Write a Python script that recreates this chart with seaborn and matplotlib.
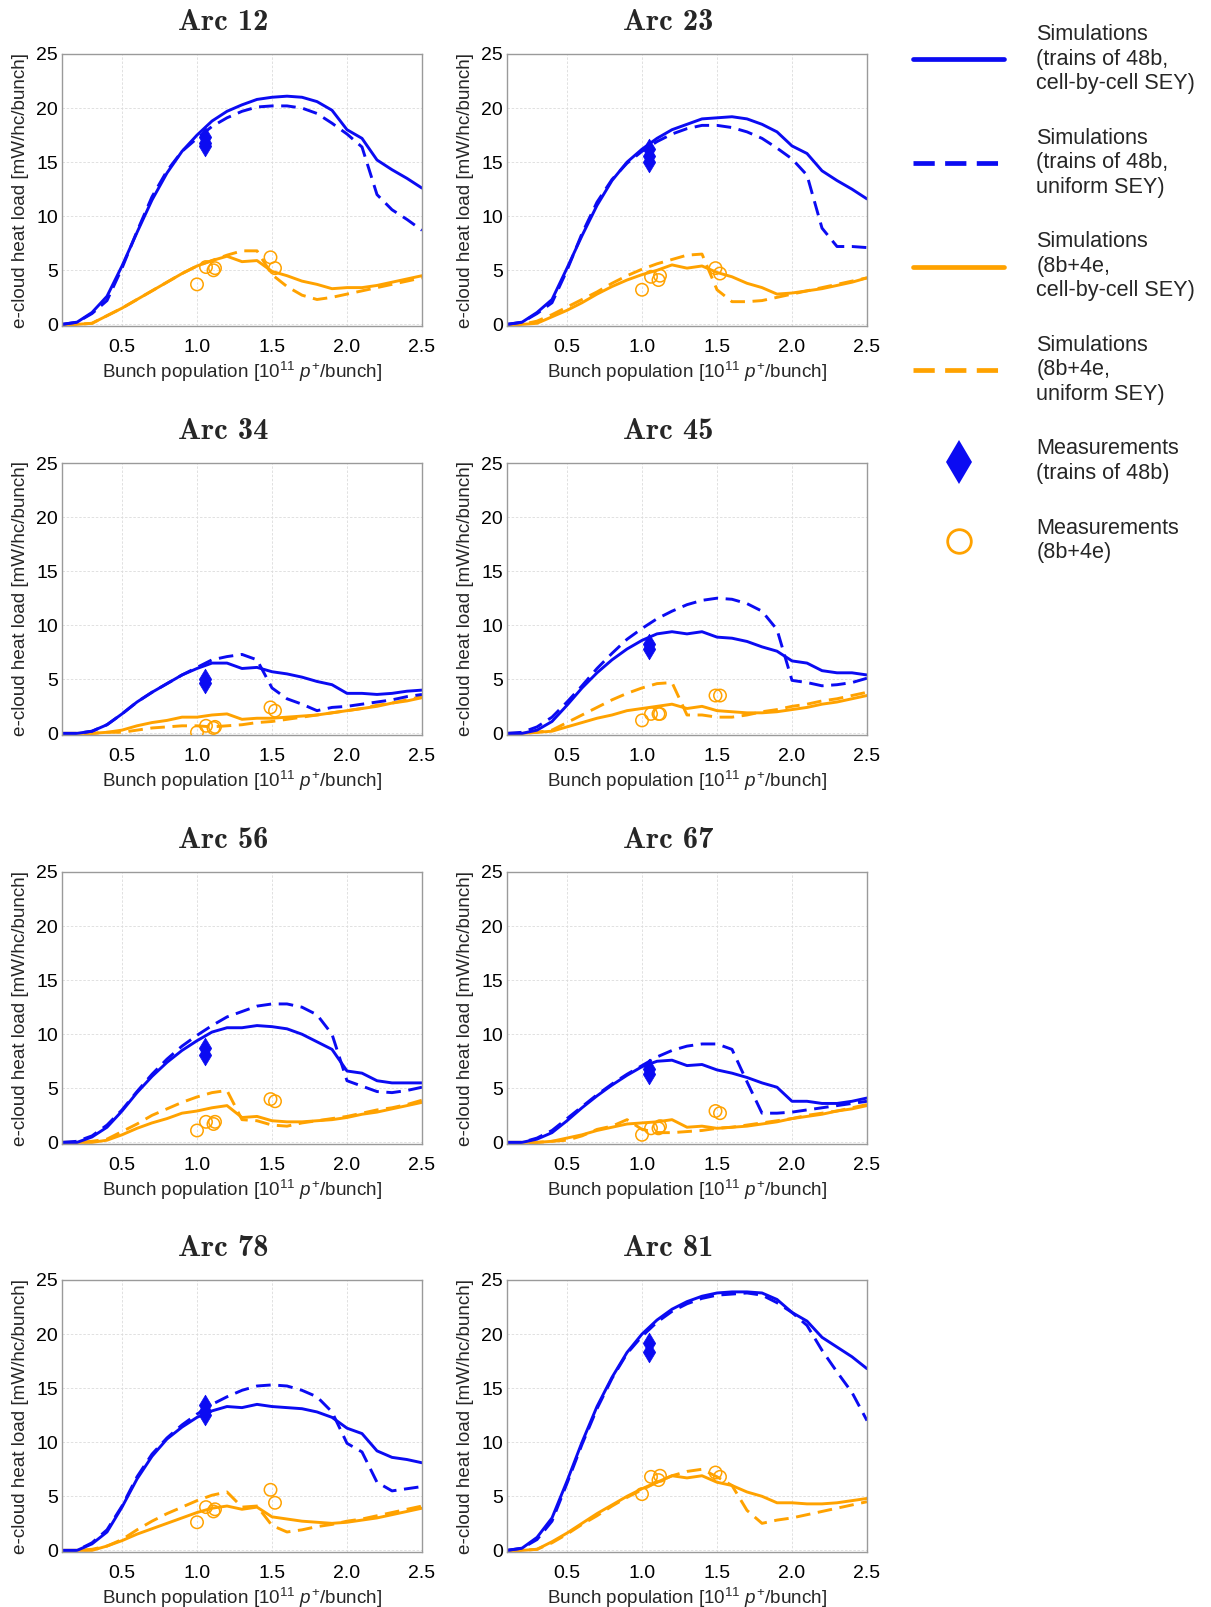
import matplotlib
matplotlib.use("Agg")
import matplotlib.pyplot as plt
from matplotlib.lines import Line2D
import seaborn as sns

# Bunch population grid of the simulations [1e11 p+/bunch]
bunch_pop = [0.1, 0.2, 0.3, 0.4, 0.5, 0.6, 0.7, 0.8, 0.9, 1.0, 1.1, 1.2, 1.3,
             1.4, 1.5, 1.6, 1.7, 1.8, 1.9, 2.0, 2.1, 2.2, 2.3, 2.4, 2.5]

# Bunch populations of the measurements
meas_pop_48b = 1.05
meas_pop_8b4e = [1.0, 1.06, 1.11, 1.12, 1.49, 1.52]

arc_names = ["Arc 12", "Arc 23", "Arc 34", "Arc 45",
             "Arc 56", "Arc 67", "Arc 78", "Arc 81"]

# Heat loads [mW/hc/bunch]
arc12_48b_cell = [0, 0.2, 1.1, 2.6, 5.4, 8.5, 11.5, 14.0, 16.0, 17.5, 18.8, 19.7, 20.3, 20.8, 21.0, 21.1, 21.0, 20.6, 19.8, 18.0, 17.2, 15.2, 14.3, 13.5, 12.6]
arc12_48b_unif = [0, 0.2, 1.0, 2.2, 5.2, 8.6, 11.8, 14.2, 16.0, 17.2, 18.3, 19.1, 19.7, 20.1, 20.2, 20.2, 20.0, 19.5, 18.6, 17.6, 16.4, 12.0, 10.6, 9.7, 8.7]
arc12_8b4e_cell = [0, 0, 0.1, 0.8, 1.5, 2.3, 3.1, 3.9, 4.7, 5.4, 5.9, 6.3, 5.8, 5.9, 4.9, 4.5, 4.0, 3.7, 3.3, 3.4, 3.4, 3.6, 3.9, 4.2, 4.5]
arc12_8b4e_unif = [0, 0, 0.1, 0.8, 1.5, 2.3, 3.1, 3.9, 4.7, 5.4, 5.9, 6.4, 6.8, 6.8, 4.6, 3.5, 2.7, 2.3, 2.5, 2.8, 3.1, 3.4, 3.7, 4.0, 4.3]
arc12_meas_48b = [17.3, 16.8, 16.5]
arc12_meas_8b4e = [3.7, 5.3, 5.0, 5.2, 6.2, 5.2]

arc23_48b_cell = [0, 0.2, 1.1, 2.3, 5.2, 8.2, 11.0, 13.3, 15.0, 16.2, 17.2, 18.0, 18.5, 19.0, 19.1, 19.2, 19.0, 18.5, 17.8, 16.5, 15.8, 14.2, 13.3, 12.5, 11.6]
arc23_48b_unif = [0, 0.2, 1.0, 2.0, 5.0, 8.4, 11.3, 13.4, 14.9, 16.0, 16.9, 17.6, 18.1, 18.4, 18.4, 18.2, 17.8, 17.2, 16.3, 15.3, 13.8, 8.9, 7.2, 7.2, 7.1]
arc23_8b4e_cell = [0, 0, 0.1, 0.7, 1.3, 2.0, 2.8, 3.5, 4.1, 4.6, 5.0, 5.5, 5.2, 5.4, 4.8, 4.4, 3.8, 3.4, 2.8, 2.9, 3.1, 3.3, 3.6, 3.9, 4.3]
arc23_8b4e_unif = [0, 0, 0.3, 0.9, 1.6, 2.3, 3.0, 3.8, 4.5, 5.1, 5.6, 6.0, 6.4, 6.5, 3.2, 2.1, 2.1, 2.2, 2.5, 2.8, 3.1, 3.4, 3.7, 4.0, 4.3]
arc23_meas_48b = [16.2, 15.6, 15.0]
arc23_meas_8b4e = [3.2, 4.4, 4.1, 4.5, 5.2, 4.7]

arc34_48b_cell = [0, 0, 0.2, 0.8, 1.8, 2.9, 3.8, 4.6, 5.4, 6.0, 6.5, 6.5, 6.0, 6.1, 5.7, 5.5, 5.2, 4.8, 4.5, 3.7, 3.7, 3.6, 3.7, 3.9, 4.0]
arc34_48b_unif = [0, 0, 0.2, 0.8, 1.8, 2.9, 3.8, 4.6, 5.4, 6.1, 6.8, 7.1, 7.3, 6.8, 4.2, 3.2, 2.7, 2.1, 2.4, 2.5, 2.7, 2.9, 3.1, 3.4, 3.6]
arc34_8b4e_cell = [0, 0, 0, 0.1, 0.3, 0.7, 1.0, 1.2, 1.5, 1.5, 1.7, 1.8, 1.3, 1.4, 1.4, 1.5, 1.6, 1.7, 1.9, 2.1, 2.3, 2.5, 2.8, 3.0, 3.3]
arc34_8b4e_unif = [0, 0, 0, 0.1, 0.1, 0.3, 0.5, 0.6, 0.7, 0.7, 0.6, 0.7, 0.8, 1.0, 1.1, 1.3, 1.5, 1.7, 1.9, 2.1, 2.3, 2.6, 2.8, 3.1, 3.4]
arc34_meas_48b = [5.0, 4.7]
arc34_meas_8b4e = [0.1, 0.7, 0.5, 0.6, 2.4, 2.1]

arc45_48b_cell = [0, 0, 0.3, 1.1, 2.6, 4.2, 5.6, 6.8, 7.8, 8.6, 9.2, 9.4, 9.2, 9.4, 8.9, 8.8, 8.5, 8.0, 7.6, 6.7, 6.5, 5.8, 5.6, 5.6, 5.4]
arc45_48b_unif = [0, 0.1, 0.6, 1.5, 2.9, 4.4, 6.0, 7.4, 8.7, 9.7, 10.6, 11.3, 11.9, 12.3, 12.5, 12.4, 12.0, 11.3, 9.6, 4.9, 4.7, 4.4, 4.5, 4.7, 5.1]
arc45_8b4e_cell = [0, 0, 0.1, 0.2, 0.6, 1.0, 1.4, 1.7, 2.1, 2.3, 2.5, 2.7, 2.3, 2.5, 2.1, 2.0, 1.9, 1.9, 2.0, 2.2, 2.4, 2.7, 2.9, 3.2, 3.5]
arc45_8b4e_unif = [0, 0, 0.1, 0.3, 1.0, 1.7, 2.4, 3.1, 3.7, 4.2, 4.6, 4.7, 1.7, 1.7, 1.5, 1.5, 1.7, 2.0, 2.2, 2.5, 2.7, 3.0, 3.2, 3.5, 3.8]
arc45_meas_48b = [8.3, 7.8]
arc45_meas_8b4e = [1.2, 1.8, 1.8, 1.8, 3.5, 3.5]

arc56_48b_cell = [0, 0, 0.5, 1.4, 2.9, 4.6, 6.1, 7.4, 8.5, 9.4, 10.2, 10.6, 10.6, 10.8, 10.7, 10.5, 10.0, 9.3, 8.6, 6.6, 6.4, 5.7, 5.5, 5.5, 5.5]
arc56_48b_unif = [0, 0.1, 0.6, 1.6, 3.0, 4.7, 6.3, 7.7, 8.9, 9.9, 10.8, 11.6, 12.1, 12.6, 12.8, 12.8, 12.5, 11.8, 10.0, 5.7, 5.2, 4.7, 4.6, 4.8, 5.1]
arc56_8b4e_cell = [0, 0, 0, 0.2, 0.7, 1.3, 1.8, 2.2, 2.7, 2.9, 3.2, 3.4, 2.3, 2.4, 2.0, 1.9, 1.9, 2.0, 2.1, 2.3, 2.6, 2.8, 3.1, 3.4, 3.7]
arc56_8b4e_unif = [0, 0, 0.1, 0.3, 1.0, 1.7, 2.5, 3.1, 3.7, 4.2, 4.6, 4.8, 2.1, 2.0, 1.6, 1.5, 1.8, 2.0, 2.2, 2.4, 2.7, 3.0, 3.2, 3.5, 3.9]
arc56_meas_48b = [8.7, 8.1]
arc56_meas_8b4e = [1.1, 1.9, 1.7, 1.9, 4.0, 3.8]

arc67_48b_cell = [0, 0, 0.3, 0.9, 2.0, 3.2, 4.3, 5.3, 6.2, 7.0, 7.5, 7.6, 7.1, 7.2, 6.7, 6.4, 6.0, 5.5, 5.1, 3.8, 3.8, 3.6, 3.6, 3.8, 4.1]
arc67_48b_unif = [0, 0, 0.4, 1.1, 2.2, 3.3, 4.4, 5.4, 6.3, 7.1, 7.9, 8.5, 8.9, 9.1, 9.1, 8.6, 5.6, 2.7, 2.7, 2.8, 3.0, 3.2, 3.4, 3.6, 3.8]
arc67_8b4e_cell = [0, 0, 0, 0.1, 0.4, 0.7, 1.1, 1.4, 1.7, 1.8, 1.9, 2.1, 1.4, 1.5, 1.3, 1.4, 1.5, 1.7, 1.9, 2.2, 2.4, 2.6, 2.9, 3.1, 3.4]
arc67_8b4e_unif = [0, 0, 0, 0.1, 0.2, 0.6, 1.2, 1.5, 2.1, 1.2, 0.9, 0.9, 1.0, 1.1, 1.3, 1.4, 1.6, 1.8, 2.0, 2.2, 2.5, 2.7, 2.9, 3.2, 3.5]
arc67_meas_48b = [6.8, 6.3]
arc67_meas_8b4e = [0.7, 1.3, 1.3, 1.5, 2.9, 2.7]

arc78_48b_cell = [0, 0, 0.6, 1.7, 4.0, 6.6, 8.7, 10.3, 11.4, 12.3, 12.9, 13.3, 13.2, 13.5, 13.3, 13.2, 13.1, 12.8, 12.3, 11.3, 10.8, 9.2, 8.6, 8.4, 8.1]
arc78_48b_unif = [0, 0, 0.7, 1.9, 4.1, 6.8, 8.9, 10.4, 11.6, 12.6, 13.5, 14.2, 14.8, 15.2, 15.3, 15.2, 14.8, 14.2, 12.8, 9.9, 9.1, 6.3, 5.5, 5.7, 5.9]
arc78_8b4e_cell = [0, 0, 0, 0.4, 0.9, 1.5, 2.0, 2.5, 3.0, 3.5, 3.9, 4.1, 3.8, 4.0, 3.1, 2.9, 2.7, 2.6, 2.5, 2.6, 2.8, 3.0, 3.3, 3.6, 3.9]
arc78_8b4e_unif = [0, 0, 0.1, 0.4, 1.0, 1.9, 2.7, 3.4, 4.0, 4.6, 5.1, 5.4, 4.0, 4.1, 2.3, 1.7, 1.9, 2.2, 2.4, 2.7, 2.9, 3.2, 3.5, 3.8, 4.1]
arc78_meas_48b = [13.4, 12.9, 12.5]
arc78_meas_8b4e = [2.6, 4.0, 3.6, 3.8, 5.6, 4.4]

arc81_48b_cell = [0, 0.2, 1.2, 3.0, 6.4, 10.0, 13.3, 16.0, 18.3, 20.0, 21.3, 22.3, 23.0, 23.5, 23.8, 23.9, 23.9, 23.8, 23.2, 22.0, 21.2, 19.7, 18.8, 17.9, 16.8]
arc81_48b_unif = [0, 0.2, 1.0, 2.7, 6.2, 9.8, 13.1, 15.9, 18.2, 19.8, 21.1, 22.1, 22.8, 23.3, 23.6, 23.7, 23.8, 23.6, 22.9, 22.0, 20.8, 18.5, 16.5, 14.6, 12.0]
arc81_8b4e_cell = [0, 0, 0.1, 0.8, 1.6, 2.5, 3.4, 4.2, 5.0, 5.7, 6.3, 6.9, 6.7, 6.9, 6.3, 6.0, 5.4, 5.0, 4.4, 4.4, 4.3, 4.3, 4.4, 4.6, 4.8]
arc81_8b4e_unif = [0, 0, 0.1, 0.7, 1.5, 2.4, 3.2, 4.1, 4.9, 5.6, 6.3, 6.9, 7.3, 7.5, 6.8, 6.0, 3.7, 2.5, 2.8, 3.0, 3.3, 3.6, 3.9, 4.2, 4.5]
arc81_meas_48b = [19.2, 18.3]
arc81_meas_8b4e = [5.2, 6.8, 6.5, 6.9, 7.2, 6.8]

arcs = {
    "Arc 12": (arc12_48b_cell, arc12_48b_unif, arc12_8b4e_cell, arc12_8b4e_unif, arc12_meas_48b, arc12_meas_8b4e),
    "Arc 23": (arc23_48b_cell, arc23_48b_unif, arc23_8b4e_cell, arc23_8b4e_unif, arc23_meas_48b, arc23_meas_8b4e),
    "Arc 34": (arc34_48b_cell, arc34_48b_unif, arc34_8b4e_cell, arc34_8b4e_unif, arc34_meas_48b, arc34_meas_8b4e),
    "Arc 45": (arc45_48b_cell, arc45_48b_unif, arc45_8b4e_cell, arc45_8b4e_unif, arc45_meas_48b, arc45_meas_8b4e),
    "Arc 56": (arc56_48b_cell, arc56_48b_unif, arc56_8b4e_cell, arc56_8b4e_unif, arc56_meas_48b, arc56_meas_8b4e),
    "Arc 67": (arc67_48b_cell, arc67_48b_unif, arc67_8b4e_cell, arc67_8b4e_unif, arc67_meas_48b, arc67_meas_8b4e),
    "Arc 78": (arc78_48b_cell, arc78_48b_unif, arc78_8b4e_cell, arc78_8b4e_unif, arc78_meas_48b, arc78_meas_8b4e),
    "Arc 81": (arc81_48b_cell, arc81_48b_unif, arc81_8b4e_cell, arc81_8b4e_unif, arc81_meas_48b, arc81_meas_8b4e),
}

legend_labels = [
    "Simulations\n(trains of 48b,\ncell-by-cell SEY)",
    "Simulations\n(trains of 48b,\nuniform SEY)",
    "Simulations\n(8b+4e,\ncell-by-cell SEY)",
    "Simulations\n(8b+4e,\nuniform SEY)",
    "Measurements\n(trains of 48b)",
    "Measurements\n(8b+4e)",
]

BLUE = "#0b0bf2"
ORANGE = "#ffa200"
DASH = (0, (5, 2.6))

sns.set_theme(style="whitegrid")
plt.rcParams["font.family"] = ["Liberation Sans", "DejaVu Sans"]
plt.rcParams["mathtext.fontset"] = "custom"
plt.rcParams["mathtext.rm"] = "Liberation Sans"
plt.rcParams["mathtext.it"] = "Liberation Sans:italic"

W, H = 1211, 1607
fig = plt.figure(figsize=(W / 100, H / 100), dpi=100)
fig.patch.set_facecolor("white")

col_left = [62, 507]
row_top = [54, 463, 872, 1280]
ax_w, ax_h = 360, 272

for i, name in enumerate(arc_names):
    r, c = divmod(i, 2)
    left = col_left[c] / W
    bottom = 1 - (row_top[r] + ax_h) / H
    ax = fig.add_axes([left, bottom, ax_w / W, ax_h / H])
    b_cell, b_unif, o_cell, o_unif, m48, m8 = arcs[name]

    sns.lineplot(x=bunch_pop, y=o_unif, ax=ax, color=ORANGE, linestyle=DASH, lw=2.1, errorbar=None)
    sns.lineplot(x=bunch_pop, y=o_cell, ax=ax, color=ORANGE, lw=2.1, errorbar=None)
    sns.lineplot(x=bunch_pop, y=b_unif, ax=ax, color=BLUE, linestyle=DASH, lw=2.1, errorbar=None)
    sns.lineplot(x=bunch_pop, y=b_cell, ax=ax, color=BLUE, lw=2.1, errorbar=None)

    sns.scatterplot(x=[meas_pop_48b] * len(m48), y=m48, ax=ax, marker="d",
                    color=BLUE, edgecolor=BLUE, s=110, linewidth=0.5, zorder=5)
    sns.scatterplot(x=meas_pop_8b4e, y=m8, ax=ax, marker="o", s=80,
                    facecolors="none", edgecolor=ORANGE, linewidth=1.1, zorder=5)

    ax.set_xlim(0.1, 2.5)
    ax.set_ylim(-0.15, 25)
    ax.set_xticks([0.5, 1.0, 1.5, 2.0, 2.5])
    ax.set_xticklabels(["0.5", "1.0", "1.5", "2.0", "2.5"])
    ax.set_yticks([0, 5, 10, 15, 20, 25])
    ax.tick_params(axis="both", length=0, labelsize=14, colors="black")
    ax.tick_params(axis="x", pad=9.5)
    ax.tick_params(axis="y", pad=3)
    ax.grid(True, color="#dcdcdc", linestyle=(0, (3, 2)), linewidth=0.6)
    for sp in ax.spines.values():
        sp.set_color("#9a9a9a")
        sp.set_linewidth(1.0)
    ax.set_facecolor("white")
    ax.set_xlabel(r"Bunch population [$10^{11}$ $p^{+}$/bunch]", fontsize=13.6, labelpad=2.5)
    ax.set_ylabel("e-cloud heat load [mW/hc/bunch]", fontsize=13.6, labelpad=5)
    ax.set_title(name, fontfamily="cmb10", fontsize=22, pad=17, x=0.447)

handles = [
    Line2D([], [], color=BLUE, lw=3.4),
    Line2D([], [], color=BLUE, lw=3.4, linestyle=(0, (4.5, 2.2))),
    Line2D([], [], color=ORANGE, lw=3.4),
    Line2D([], [], color=ORANGE, lw=3.4, linestyle=(0, (4.5, 2.2))),
    Line2D([], [], color=BLUE, marker="d", linestyle="none", markersize=22, markeredgewidth=0),
    Line2D([], [], color=ORANGE, marker="o", linestyle="none", markersize=17,
           markerfacecolor="none", markeredgewidth=2),
]
leg = fig.legend(handles, legend_labels, loc="upper left", bbox_to_anchor=(913 / W, 1 - 24 / H),
                 frameon=False, fontsize=15.6, handlelength=4.2, handletextpad=1.5,
                 labelspacing=1.55, borderpad=0, borderaxespad=0)
for t in leg.get_texts():
    t.set_linespacing(1.22)

fig.savefig("out.png", dpi=100, facecolor="white")
